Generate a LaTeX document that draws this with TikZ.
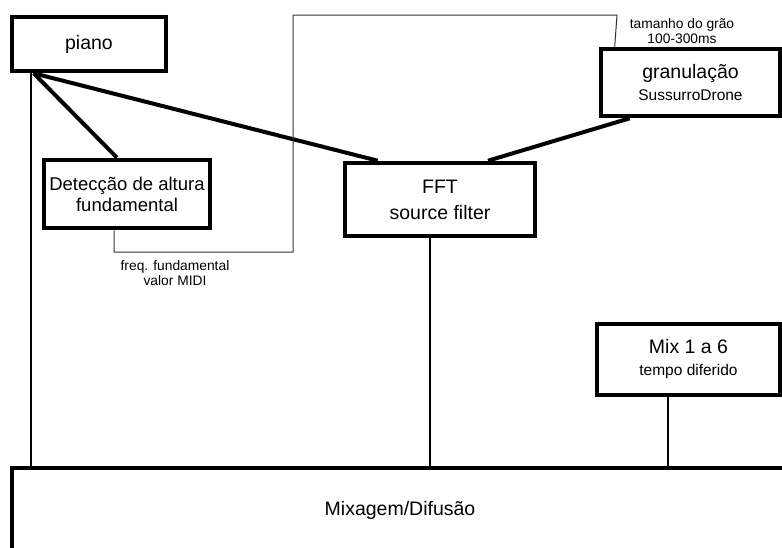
\documentclass[tikz,border=0pt]{standalone}
\usepackage{fontspec}
\setmainfont{Liberation Sans}
\usepackage{tikz}
\usetikzlibrary{calc,positioning}
\newcommand{\txtGrande}{\fontsize{19.5}{21}\selectfont}
\newcommand{\txtMenor}{\fontsize{18.5}{21}\selectfont}
\newcommand{\txtMedio}{\fontsize{15.5}{19}\selectfont}
\newcommand{\txtNota}{\fontsize{13.8}{15.5}\selectfont}
\tikzstyle{caixa}=[draw, line width=4.6pt, inner sep=0pt,
                   align=center, font=\txtGrande]
\tikzstyle{liga} =[line width=4pt]
\tikzstyle{desce}=[line width=1.8pt]
\tikzstyle{fio}  =[line width=1pt, black!80]
\tikzstyle{nota} =[inner sep=0pt, align=center, font=\txtNota]

\begin{document}
\begin{tikzpicture}[x=1pt,y=-1pt]
    \useasboundingbox (0,0) rectangle (782,547);

    % blocos
    \draw (89,44) node (piano) [caixa,minimum width=154pt,minimum height=54pt] {piano};
    \draw (127,194) node (detec) [caixa,font=\txtMenor,minimum width=166pt,minimum height=68pt]
        {Detecção de altura\\fundamental};
    \draw (440,199.5) node (fft) [caixa,minimum width=190pt,minimum height=73pt]
        {FFT\\[5pt]source filter};
    \draw (690.5,82.5) node (gran) [caixa,minimum width=179pt,minimum height=67pt]
        {granulação\\[1pt]{\txtMedio SussurroDrone}};
    \draw (688.5,359.5) node (mix) [caixa,minimum width=183pt,minimum height=71pt]
        {Mix 1 a 6\\[1pt]{\txtMedio tempo diferido}};
    \draw (400,510) node (mixagem) [caixa,minimum width=776pt,minimum height=84pt]
        {Mixagem/Difusão};

    % notas
    \draw (175,273) node (notaFreq) [nota] {freq. fundamental\\valor MIDI};
    \draw (682,31) node (notaGrao) [nota] {tamanho do grão\\100-300ms};

    % pontos de saida
    \coordinate (pianoSaida) at ([xshift=24pt]piano.south west);
    \coordinate (pianoDesce) at ([xshift=21pt]piano.south west);
    \coordinate (fftDesce) at ([xshift=-10pt]fft.south);
    \coordinate (mixDesce) at ([xshift=-20.5pt]mix.south);

    \draw [liga] (pianoSaida) -- ([xshift=-10pt]detec.north);
    \draw [liga] (pianoSaida) -- ([xshift=35pt]fft.north west);
    \draw [liga] ([xshift=31pt]gran.south west) -- ([xshift=48pt]fft.north);

    \draw [desce] (pianoDesce) -- (pianoDesce |- mixagem.north);
    \draw [desce,line width=2.5pt] (fftDesce) -- (fftDesce |- mixagem.north);
    \draw [desce,line width=1.3pt] (mixDesce) -- (mixDesce |- mixagem.north);

    % controle da granulacao
    \draw [fio] ([xshift=-13pt]detec.south) |- (293,252) |- (617,15)
        -- ([xshift=16pt]gran.north west);

\end{tikzpicture}
\end{document}
